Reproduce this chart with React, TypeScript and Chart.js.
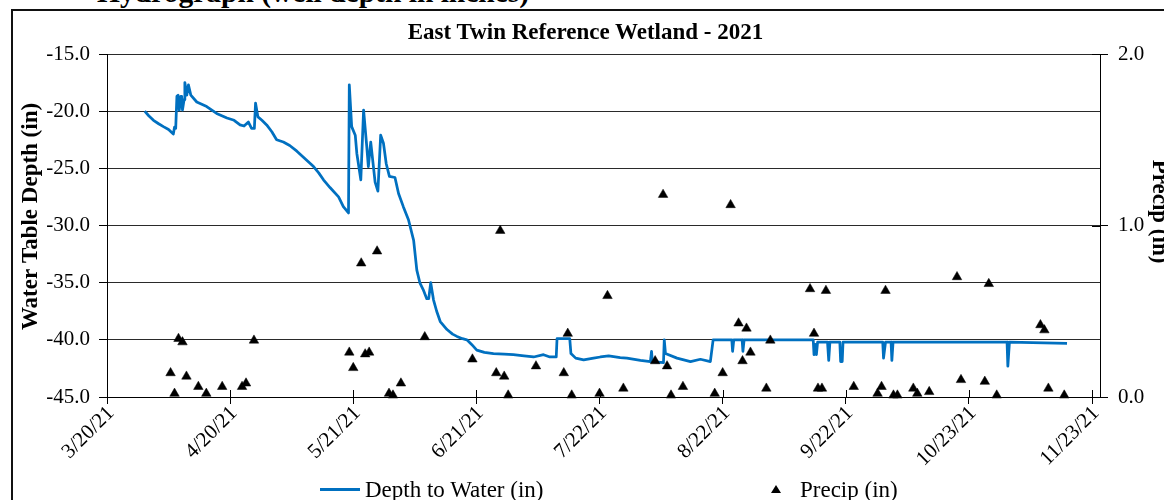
import React, { useEffect, useRef } from 'react';
import { Chart, registerables } from 'chart.js';

Chart.register(...registerables);

// x values are days counted from 3/20/21
const X_TICK_DAYS = [0, 31, 62, 93, 124, 155, 186, 217, 248];
const X_TICK_LABELS = ['3/20/21', '4/20/21', '5/21/21', '6/21/21', '7/22/21', '8/22/21', '9/22/21', '10/23/21', '11/23/21'];
const X_MIN = 0;
const X_MAX = 250;

const DEPTH_TICKS = [-45, -40, -35, -30, -25, -20, -15];
const PRECIP_TICKS = [0, 1, 2];

const DEPTH_TITLE = 'Water Table Depth (in)';
const PRECIP_TITLE = 'Precip (in)';

// Well water-table depth (in)
const DEPTH_DAYS = [
  9.5, 10.5, 11.7, 13.0, 14.2, 15.5, 16.7, 17.0, 17.3, 17.6, 17.9, 18.2, 18.6, 18.8, 19.0, 19.4, 19.6, 20.1, 20.5, 21.1,
  22.6, 25.1, 27.6, 30.2, 32.0, 33.5, 34.5, 35.6, 36.4, 37.1, 37.4, 38.0, 39.0, 40.2, 41.5, 42.7, 44.4, 46.0, 47.8, 50.0,
  52.0, 53.3, 54.5, 56.2, 58.3, 59.5, 60.8, 61.0, 61.6, 62.5, 62.9, 63.9, 64.6, 65.4, 65.8, 66.4, 66.9, 67.5, 68.2, 68.9,
  69.6, 70.3, 71.1, 72.5, 73.4, 74.6, 75.9, 77.2, 78.0, 78.8, 79.6, 80.5, 81.0, 81.5, 82.2, 83.0, 83.9, 85.6, 87.0, 88.1,
  89.5, 90.6, 91.8, 93.1, 95.0, 97.3, 100.0, 102.3, 105.0, 107.4, 109.9, 111.5, 113.1, 113.3, 116.5, 116.8, 118.0, 120.0, 122.5, 124.2,
  126.3, 129.2, 130.9, 134.3, 136.8, 137.1, 137.3, 140.1, 140.3, 140.6, 143.5, 146.9, 149.4, 151.9, 152.6, 157.3, 157.5, 157.8, 159.9, 160.1,
  160.4, 177.8, 178.0, 178.3, 178.6, 178.9, 181.4, 181.7, 182.0, 184.5, 184.7, 185.1, 185.3, 195.3, 195.5, 196.0, 197.4, 197.6, 197.9, 226.6,
  226.8, 227.2, 241.7,
];
const DEPTH_IN = [
  -20.0, -20.4, -20.8, -21.1, -21.35, -21.6, -22.0, -21.4, -21.5, -18.7, -18.6, -19.9, -18.7, -18.7, -19.9, -19.0, -17.5, -18.6, -17.7, -18.6,
  -19.2, -19.6, -20.2, -20.6, -20.8, -21.2, -21.3, -20.95, -21.5, -21.5, -19.3, -20.5, -20.8, -21.2, -21.8, -22.5, -22.7, -23.0, -23.5, -24.2,
  -24.85, -25.4, -26.0, -26.7, -27.5, -28.35, -28.9, -17.7, -21.35, -22.1, -23.7, -26.0, -19.9, -23.1, -24.85, -22.7, -24.3, -26.2, -27.0, -22.1,
  -22.8, -24.6, -25.7, -25.8, -27.2, -28.35, -29.5, -31.3, -33.9, -35.05, -35.6, -36.4, -36.4, -35.0, -36.5, -37.5, -38.4, -39.1, -39.5, -39.7,
  -39.9, -40.0, -40.4, -40.9, -41.1, -41.2, -41.25, -41.3, -41.4, -41.5, -41.3, -41.5, -41.5, -39.9, -39.9, -41.2, -41.6, -41.75, -41.6, -41.5,
  -41.4, -41.55, -41.6, -41.8, -41.9, -41.0, -41.9, -42.0, -40.0, -41.2, -41.6, -41.9, -41.7, -41.9, -40.0, -40.0, -41.0, -40.0, -40.0, -41.0,
  -40.0, -40.0, -41.3, -40.4, -41.3, -40.2, -40.2, -41.8, -40.2, -40.2, -41.9, -41.9, -40.2, -40.2, -41.6, -40.2, -40.2, -41.8, -40.2, -40.2,
  -42.3, -40.2, -40.3,
];

// Daily precipitation (in)
const PRECIP_DAYS = [
  16, 17, 18, 19, 20, 23, 25, 29, 34, 35, 37, 61, 62, 64, 65, 66, 68, 71, 72, 74,
  80, 92, 98, 99, 100, 101, 108, 115, 116, 117, 124, 126, 130, 138, 140, 141, 142, 145, 153, 155,
  157, 159, 160, 161, 162, 166, 167, 177, 178, 179, 180, 181, 188, 194, 195, 196, 198, 199, 203, 204,
  207, 214, 215, 221, 222, 224, 235, 236, 237, 241,
];
const PRECIP_IN = [
  0.14, 0.02, 0.34, 0.32, 0.12, 0.06, 0.02, 0.06, 0.06, 0.08, 0.33, 0.26, 0.17, 0.78, 0.25, 0.26, 0.85, 0.02, 0.01, 0.08,
  0.35, 0.22, 0.14, 0.97, 0.12, 0.01, 0.18, 0.14, 0.37, 0.01, 0.02, 0.59, 0.05, 0.21, 1.18, 0.18, 0.01, 0.06, 0.02, 0.14,
  1.12, 0.43, 0.21, 0.40, 0.26, 0.05, 0.33, 0.63, 0.37, 0.05, 0.05, 0.62, 0.06, 0.02, 0.06, 0.62, 0.01, 0.01, 0.05, 0.02,
  0.03, 0.70, 0.10, 0.09, 0.66, 0.01, 0.42, 0.39, 0.05, 0.01,
];

const BLUE = '#0070C0';
const SERIF = '"Liberation Serif", "Times New Roman", serif';

// Tick marks that cross the bottom and right axes
const crossTicks = {
  id: 'crossTicks',
  beforeDatasetsDraw(chart: any) {
    const { ctx, chartArea, scales } = chart;
    ctx.save();
    ctx.strokeStyle = '#000';
    ctx.lineWidth = 1;
    ctx.beginPath();
    scales.x.ticks.forEach((t: any) => {
      const px = Math.round(scales.x.getPixelForValue(t.value)) + 0.5;
      ctx.moveTo(px, chartArea.bottom);
      ctx.lineTo(px, chartArea.bottom - 7);
    });
    scales.y1.ticks.forEach((t: any) => {
      const py = Math.round(scales.y1.getPixelForValue(t.value)) + 0.5;
      ctx.moveTo(chartArea.right, py);
      ctx.lineTo(chartArea.right - 8, py);
    });
    ctx.stroke();
    ctx.restore();
  },
};

// Rotated titles beside the two value axes
const axisTitles = {
  id: 'axisTitles',
  afterDraw(chart: any) {
    const { ctx, chartArea } = chart;
    const mid = (chartArea.top + chartArea.bottom) / 2;
    ctx.save();
    ctx.fillStyle = '#000';
    ctx.font = `bold 23px ${SERIF}`;
    ctx.textAlign = 'center';
    ctx.textBaseline = 'middle';

    ctx.save();
    ctx.translate(31, mid - 9);
    ctx.rotate(-Math.PI / 2);
    ctx.fillText(DEPTH_TITLE, 0, 0);
    ctx.restore();

    ctx.save();
    ctx.translate(chartArea.right + 59, mid - 14);
    ctx.rotate(Math.PI / 2);
    ctx.fillText(PRECIP_TITLE, 0, 0);
    ctx.restore();

    ctx.restore();
  },
};

function HydroChart() {
  const ref = useRef<HTMLCanvasElement | null>(null);

  useEffect(() => {
    if (!ref.current) return;
    const depthPts = DEPTH_DAYS.map((d, i) => ({ x: d, y: DEPTH_IN[i] }));
    const precipPts = PRECIP_DAYS.map((d, i) => ({ x: d, y: PRECIP_IN[i] }));

    const chart = new Chart(ref.current, {
      type: 'scatter',
      data: {
        datasets: [
          {
            label: 'Depth to Water (in)',
            data: depthPts,
            yAxisID: 'y',
            showLine: true,
            borderColor: BLUE,
            backgroundColor: BLUE,
            borderWidth: 2.75,
            pointRadius: 0,
            tension: 0,
            borderJoinStyle: 'round',
            order: 2,
          },
          {
            label: 'Precip (in)',
            data: precipPts,
            yAxisID: 'y1',
            showLine: false,
            pointStyle: 'triangle',
            pointRadius: 5.5,
            backgroundColor: '#000',
            borderColor: '#000',
            borderWidth: 0.5,
            clip: false,
            order: 1,
          },
        ],
      } as any,
      options: {
        responsive: false,
        animation: false,
        devicePixelRatio: 1,
        layout: { padding: { top: 54, left: 0, right: 0, bottom: 0 } },
        plugins: {
          legend: { display: false },
          tooltip: { enabled: false },
          title: { display: false },
        },
        scales: {
          x: {
            type: 'linear',
            min: X_MIN,
            max: X_MAX,
            afterBuildTicks: (scale: any) => {
              scale.ticks = X_TICK_DAYS.map((v) => ({ value: v }));
            },
            afterFit: (scale: any) => {
              scale.height = 103;
            },
            ticks: {
              autoSkip: false,
              minRotation: 45,
              maxRotation: 45,
              padding: -3,
              labelOffset: 4,
              color: '#000',
              font: { family: SERIF, size: 21 },
              callback: (v: any) => {
                const i = X_TICK_DAYS.indexOf(Number(v));
                return i >= 0 ? X_TICK_LABELS[i] : '';
              },
            },
            grid: { display: true, drawOnChartArea: false, drawTicks: true, tickLength: 7, tickColor: '#000' },
            border: { display: true, color: '#000', width: 1 },
          },
          y: {
            type: 'linear',
            position: 'left',
            min: -45,
            max: -15,
            afterBuildTicks: (scale: any) => {
              scale.ticks = DEPTH_TICKS.map((v) => ({ value: v }));
            },
            afterFit: (scale: any) => {
              scale.width = 107;
            },
            ticks: {
              padding: 9,
              color: '#000',
              font: { family: SERIF, size: 21 },
              callback: (v: any) => Number(v).toFixed(1),
            },
            grid: { color: '#2a2a2a', lineWidth: 1, drawTicks: true, tickLength: 8, tickColor: '#000' },
            border: { display: true, color: '#000', width: 1 },
          },
          y1: {
            type: 'linear',
            position: 'right',
            min: 0,
            max: 2,
            afterBuildTicks: (scale: any) => {
              scale.ticks = PRECIP_TICKS.map((v) => ({ value: v }));
            },
            afterFit: (scale: any) => {
              scale.width = 100;
            },
            ticks: {
              padding: 10,
              color: '#000',
              font: { family: SERIF, size: 21 },
              callback: (v: any) => Number(v).toFixed(1),
            },
            grid: { display: true, drawOnChartArea: false, drawTicks: true, tickLength: 8, tickColor: '#000' },
            border: { display: true, color: '#000', width: 1 },
          },
        },
      } as any,
      plugins: [crossTicks, axisTitles],
    });
    return () => chart.destroy();
  }, []);

  return <canvas ref={ref} width={1200} height={500} style={{ position: 'absolute', left: 0, top: 0, display: 'block' }} />;
}

export default function App() {
  return (
    <div
      style={{
        position: 'fixed',
        left: 0,
        top: 0,
        width: 1164,
        height: 500,
        overflow: 'hidden',
        background: '#fff',
        fontFamily: SERIF,
        color: '#000',
      }}
    >
      {/* frame around the figure */}
      <div style={{ position: 'absolute', left: 11, top: 9, width: 2000, height: 2000, border: '2px solid #111' }} />
      {/* page heading above the frame */}
      <div
        style={{
          position: 'absolute',
          left: 97,
          top: -22,
          fontSize: 29.5,
          lineHeight: '29.5px',
          fontWeight: 'bold',
          whiteSpace: 'nowrap',
        }}
      >
        Hydrograph (well depth in inches)
      </div>
      <HydroChart />
      <div
        style={{
          position: 'absolute',
          left: 285.5,
          top: 20,
          width: 600,
          textAlign: 'center',
          fontSize: 23,
          lineHeight: '23px',
          fontWeight: 'bold',
          whiteSpace: 'nowrap',
        }}
      >
        East Twin Reference Wetland - 2021
      </div>
      {/* legend */}
      <div style={{ position: 'absolute', left: 320, top: 488, width: 40, height: 3, background: BLUE }} />
      <div style={{ position: 'absolute', left: 365, top: 478, fontSize: 23, lineHeight: '23px', whiteSpace: 'nowrap' }}>
        Depth to Water (in)
      </div>
      <div
        style={{
          position: 'absolute',
          left: 771,
          top: 485,
          width: 0,
          height: 0,
          borderLeft: '5px solid transparent',
          borderRight: '5px solid transparent',
          borderBottom: '8px solid #000',
        }}
      />
      <div style={{ position: 'absolute', left: 800, top: 478, fontSize: 23, lineHeight: '23px', whiteSpace: 'nowrap' }}>
        Precip (in)
      </div>
    </div>
  );
}
